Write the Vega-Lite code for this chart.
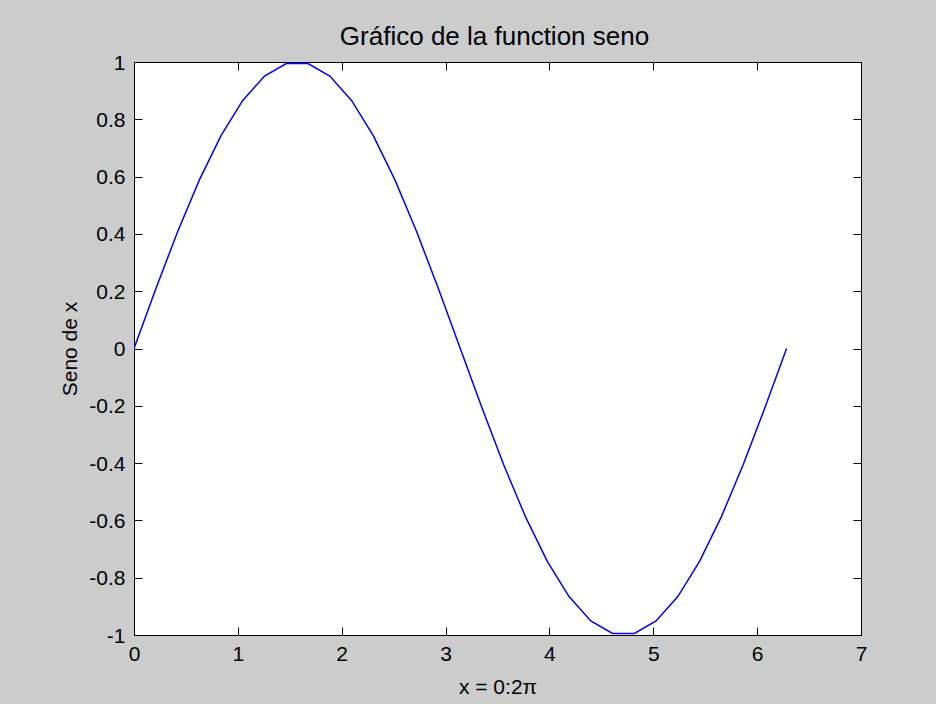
{
  "$schema": "https://vega.github.io/schema/vega-lite/v6.json",
  "width": 727,
  "height": 573,
  "autosize": {"type": "none"},
  "padding": {"left": 134, "top": 62, "right": 75, "bottom": 69},
  "background": "#cccccc",
  "config": {
    "font": "Liberation Sans",
    "view": {"fill": "white", "stroke": "black", "strokeWidth": 1},
    "axis": {
      "grid": false,
      "domainColor": "black",
      "tickColor": "black",
      "tickWidth": 1,
      "labelColor": "black",
      "titleColor": "black",
      "labelFont": "Liberation Sans",
      "titleFont": "Liberation Sans",
      "labelFontSize": 21,
      "titleFontSize": 21,
      "titleFontWeight": "normal",
      "labelFlush": false,
      "labelOverlap": false,
      "labelBound": false
    }
  },
  "title": {
    "text": "Gráfico de la function seno",
    "font": "Liberation Sans",
    "fontSize": 26,
    "fontWeight": "normal",
    "color": "black",
    "baseline": "alphabetic",
    "offset": -19,
    "dx": -3
  },
  "data": {
    "values": [
      {"x": 0, "y": 0},
      {"x": 0.20944, "y": 0.207912},
      {"x": 0.41888, "y": 0.406737},
      {"x": 0.62832, "y": 0.587785},
      {"x": 0.83776, "y": 0.743145},
      {"x": 1.0472, "y": 0.866025},
      {"x": 1.25664, "y": 0.951057},
      {"x": 1.46608, "y": 0.994522},
      {"x": 1.67552, "y": 0.994522},
      {"x": 1.88496, "y": 0.951057},
      {"x": 2.0944, "y": 0.866025},
      {"x": 2.30383, "y": 0.743145},
      {"x": 2.51327, "y": 0.587785},
      {"x": 2.72271, "y": 0.406737},
      {"x": 2.93215, "y": 0.207912},
      {"x": 3.14159, "y": 0},
      {"x": 3.35103, "y": -0.207912},
      {"x": 3.56047, "y": -0.406737},
      {"x": 3.76991, "y": -0.587785},
      {"x": 3.97935, "y": -0.743145},
      {"x": 4.18879, "y": -0.866025},
      {"x": 4.39823, "y": -0.951057},
      {"x": 4.60767, "y": -0.994522},
      {"x": 4.81711, "y": -0.994522},
      {"x": 5.02655, "y": -0.951057},
      {"x": 5.23599, "y": -0.866025},
      {"x": 5.44543, "y": -0.743145},
      {"x": 5.65487, "y": -0.587785},
      {"x": 5.86431, "y": -0.406737},
      {"x": 6.07375, "y": -0.207912},
      {"x": 6.28319, "y": 0}
    ]
  },
  "layer": [
    {
      "mark": {"type": "line", "color": "#0000ff", "strokeWidth": 1.5, "clip": true},
      "encoding": {
        "x": {
          "field": "x", "type": "quantitative",
          "scale": {"domain": [0, 7], "nice": false, "zero": false},
          "axis": {
            "orient": "bottom",
            "values": [0, 1, 2, 3, 4, 5, 6, 7],
            "tickSize": -8,
            "labelPadding": 16.5,
            "labelExpr": "datum.value + ''",
            "title": "x = 0:2π",
            "titleBaseline": "alphabetic",
            "titleY": 58
          }
        },
        "y": {
          "field": "y", "type": "quantitative",
          "scale": {"domain": [-1, 1], "nice": false, "zero": false},
          "axis": {
            "orient": "left",
            "values": [-1, -0.8, -0.6, -0.4, -0.2, 0, 0.2, 0.4, 0.6, 0.8, 1],
            "tickSize": -8,
            "labelPadding": 17,
            "labelOffset": 1,
            "labelExpr": "datum.value + ''",
            "title": "Seno de x",
            "titleBaseline": "alphabetic",
            "titleX": -58
          }
        }
      }
    },
    {
      "mark": {"type": "line", "opacity": 0},
      "encoding": {
        "x": {
          "field": "x", "type": "quantitative",
          "axis": {
            "orient": "top",
            "values": [0, 1, 2, 3, 4, 5, 6, 7],
            "tickSize": -8,
            "labels": false,
            "title": null
          }
        },
        "y": {
          "field": "y", "type": "quantitative",
          "axis": {
            "orient": "right",
            "values": [-1, -0.8, -0.6, -0.4, -0.2, 0, 0.2, 0.4, 0.6, 0.8, 1],
            "tickSize": -8,
            "labels": false,
            "title": null
          }
        }
      }
    }
  ],
  "resolve": {"axis": {"x": "independent", "y": "independent"}}
}
